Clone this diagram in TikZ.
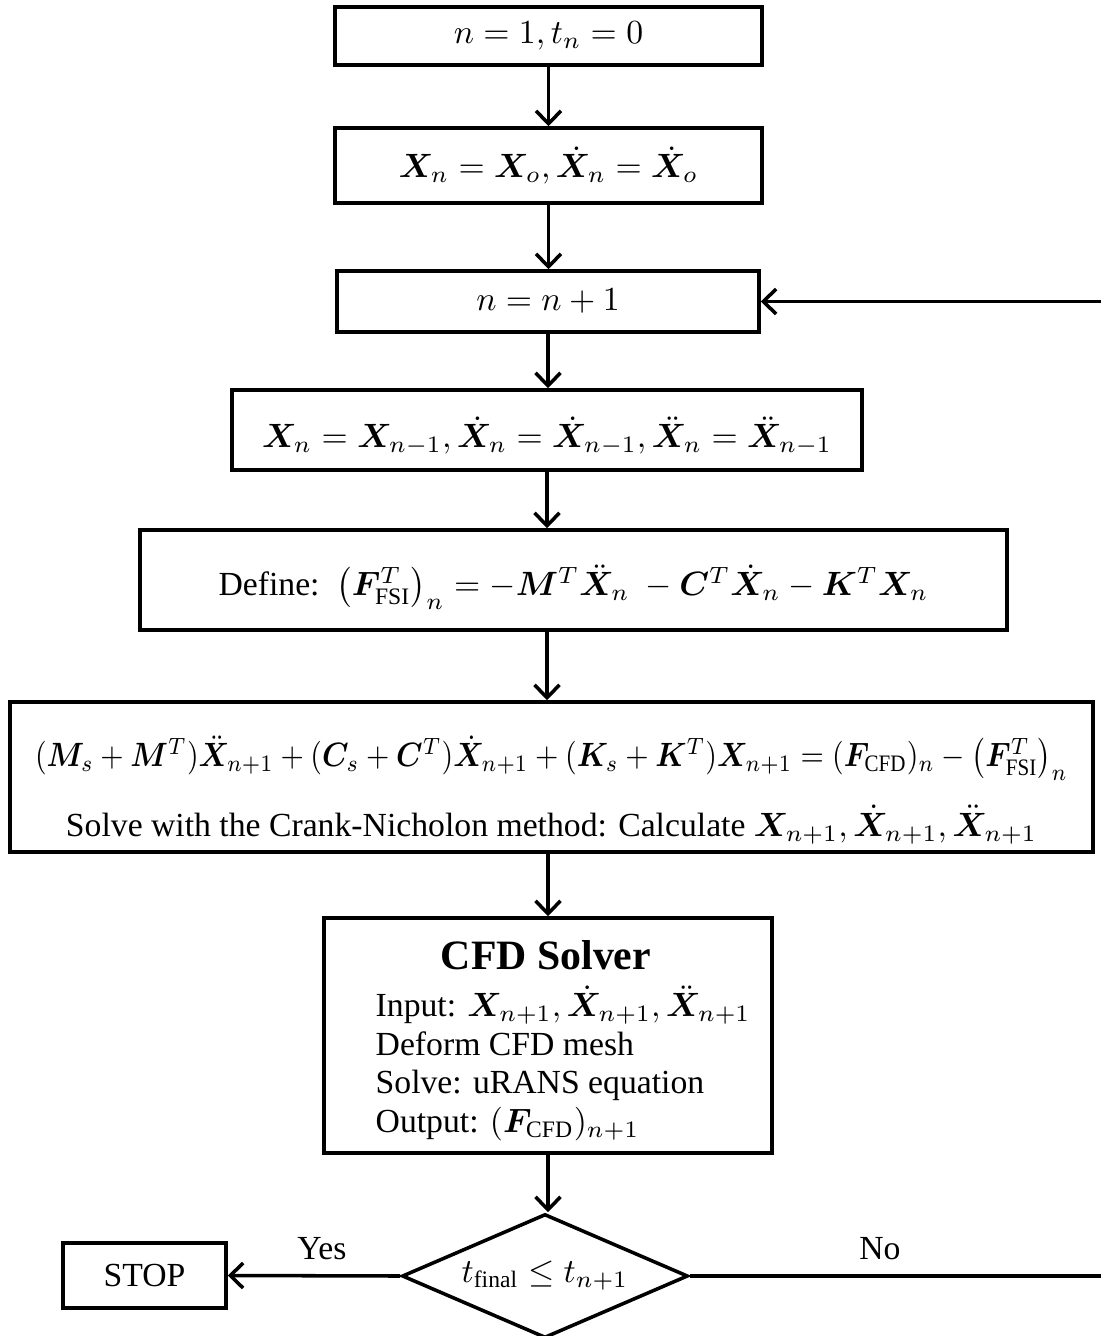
\documentclass[tikz,border=0pt]{standalone}
\usepackage{amsmath,bm}
\usepackage{graphicx}
\usepackage{fontspec}
\setmainfont{Liberation Serif}
\usetikzlibrary{shapes.geometric,arrows.meta}
\def\pxu{0.2967}
\begin{document}
\begin{tikzpicture}[x=0.2967pt,y=-0.2967pt,
 every node/.style={font=\fontsize{10}{12}\selectfont},
 box/.style={draw,line width=1.05pt,inner sep=0pt},
 arr/.style={line width=1.05pt,-{Straight Barb[length=3.8pt,width=7.4pt]}}]
\useasboundingbox (0,0) rectangle (1100,1336);
\node[box,minimum width=427pt*\pxu,minimum height=58pt*\pxu] (b1) at (548.5,36) {$n=1, t_n=0$};
\node[box,minimum width=427pt*\pxu,minimum height=75pt*\pxu] (b2) at (548.5,165.5) {$\bm X_n=\bm X_o,\dot{\bm X}_n=\dot{\bm X}_o$};
\node[box,minimum width=422pt*\pxu,minimum height=61pt*\pxu] (b3) at (548,301.5) {$n=n+1$};
\node[box,minimum width=630pt*\pxu,minimum height=80pt*\pxu] (b4) at (547,430) {};
\node (t4) at (547,436) {$\bm X_n=\bm X_{n-1},\dot{\bm X}_n=\dot{\bm X}_{n-1},\ddot{\bm X}_n=\ddot{\bm X}_{n-1}$};
\node[box,minimum width=867pt*\pxu,minimum height=100pt*\pxu] (b5) at (573.5,580) {};
\node (t5) at (573.5,587) {Define:\ \ $\bigl(\bm F^T_{\mathrm{FSI}}\bigr)_n=-\bm M^T\ddot{\bm X}_n\ -\bm C^T\dot{\bm X}_n-\bm K^T\bm X_n$};
\node[box,minimum width=1083pt*\pxu,minimum height=150pt*\pxu] (b6) at (551.5,777) {};
\node[align=center] (t6) at (551.5,790) {\scalebox{0.89}[1]{$(\bm M_s+\bm M^T)\ddot{\bm X}_{n+1}+(\bm C_s+\bm C^T)\dot{\bm X}_{n+1}+(\bm K_s+\bm K^T)\bm X_{n+1}=(\bm F_{\mathrm{CFD}})_n-\bigl(\bm F^T_{\mathrm{FSI}}\bigr)_n$}\\[6.5pt]
Solve with the Crank-Nicholon method: Calculate $\bm X_{n+1},\dot{\bm X}_{n+1},\ddot{\bm X}_{n+1}$};
\node[box,minimum width=448pt*\pxu,minimum height=235pt*\pxu] (cfd) at (548,1035.5) {};
\node[font=\fontsize{12.4}{14}\selectfont\bfseries] (ttl) at (546,955) {CFD Solver};
\node[anchor=north west,align=left,inner sep=0pt,font=\fontsize{10}{11.4}\selectfont] (lst) at (375,985) {Input: $\bm X_{n+1},\dot{\bm X}_{n+1},\ddot{\bm X}_{n+1}$\\
Deform CFD mesh\\
Solve: uRANS equation\\
Output: $(\bm F_{\mathrm{CFD}})_{n+1}$};
\node[draw,shape=diamond,line width=1.05pt,inner sep=0pt,aspect=2.3,minimum width=286pt*\pxu,minimum height=124pt*\pxu] (dia) at (545,1276) {$t_{\mathrm{final}}\le t_{n+1}$};
\node[box,minimum width=163pt*\pxu,minimum height=65pt*\pxu] (stop) at (144.5,1275.5) {STOP};
\node (yes) at (322,1249) {Yes};
\node (no) at (880,1249) {No};
\coordinate (r1) at (1104,1276);
\coordinate (r2) at (1104,301.5);
\draw[arr] (b1.south) -- (b1.south |- b2.north);
\draw[arr] (b2.south) -- (b2.south |- b3.north);
\draw[arr] (b3.south) -- (b3.south |- b4.north);
\draw[arr] (b4.south) -- (b4.south |- b5.north);
\draw[arr] (b4.south |- b5.south) -- (b4.south |- b6.north);
\draw[arr] (cfd.north |- b6.south) -- (cfd.north);
\draw[arr] (cfd.south) -- (cfd.south |- dia.north);
\draw[arr] (dia.west) -- (stop.east);
\draw[arr] (dia.east) -- (r1) -- (r2) -- (b3.east);
\end{tikzpicture}
\end{document}
